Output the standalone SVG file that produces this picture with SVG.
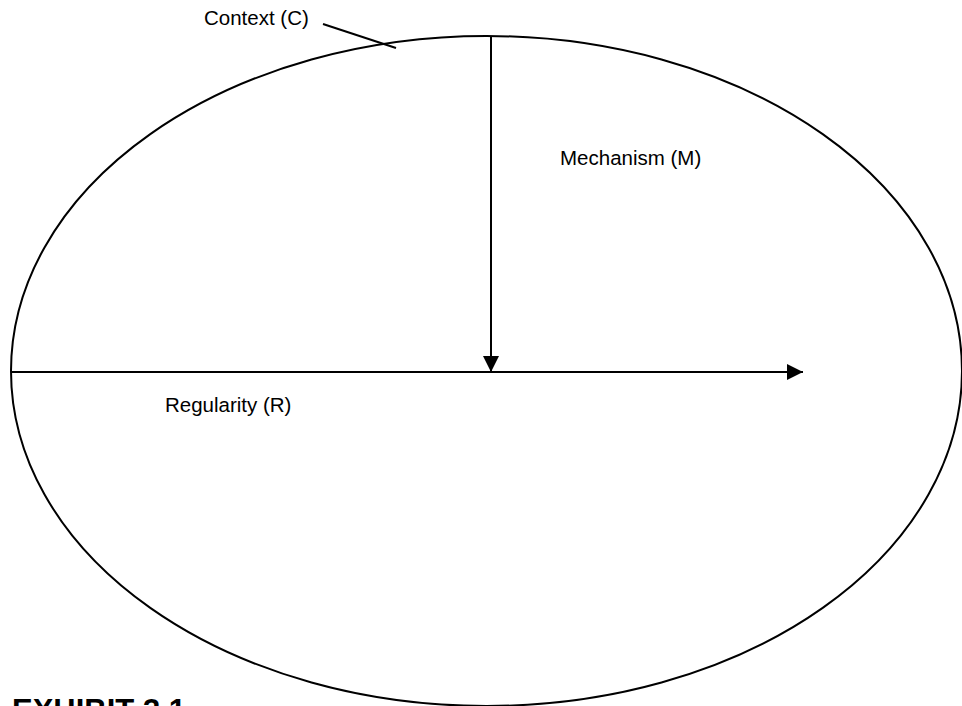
<svg xmlns="http://www.w3.org/2000/svg" width="962" height="706" viewBox="0 0 962 706">
<style>
.lbl{font-family:"Liberation Sans",Arial,sans-serif;font-size:20.5px;fill:#000}
.ttl{font-family:"Liberation Sans",Arial,sans-serif;font-size:31px;font-weight:bold;fill:#000}
.ln{stroke:#000;stroke-width:2;fill:none}
</style>
<defs>
<marker id="ah" markerUnits="userSpaceOnUse" markerWidth="16" markerHeight="16" refX="16" refY="8" orient="auto">
<path d="M0,0 L16,8 L0,16 Z" fill="#000"/>
</marker>
</defs>
<rect width="962" height="706" fill="#fff"/>
<g id="context">
<ellipse class="ln" cx="486.5" cy="371" rx="475.5" ry="335"/>
<text class="lbl" x="204" y="25">Context (C)</text>
</g>
<g id="mechanism">
<text class="lbl" x="560" y="165">Mechanism (M)</text>
</g>
<g id="regularity">
<text class="lbl" x="165" y="412">Regularity (R)</text>
</g>
<g id="connectors">
<line class="ln" x1="323" y1="24" x2="396" y2="48"/>
<line class="ln" x1="491" y1="36" x2="491" y2="372" marker-end="url(#ah)"/>
<line class="ln" x1="11" y1="372" x2="803" y2="372" marker-end="url(#ah)"/>
</g>
<text class="ttl" x="12" y="721">EXHIBIT 3.1</text>
</svg>
